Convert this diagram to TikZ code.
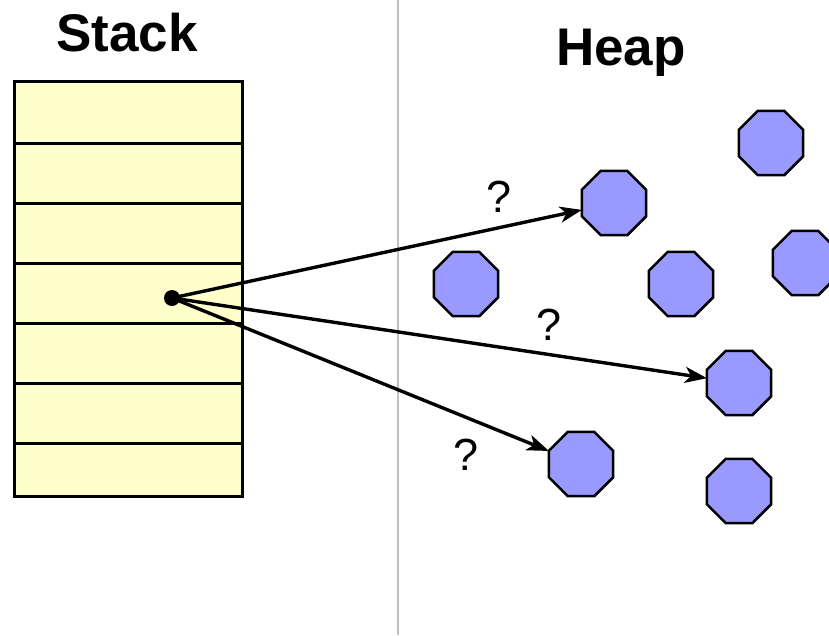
\documentclass[tikz,border=0pt]{standalone}
\usepackage{fontspec}
\setmainfont{Liberation Sans}
\usetikzlibrary{shapes.geometric,arrows.meta}
\definecolor{slotfill}{HTML}{FFFFCC}
\definecolor{objfill}{HTML}{9999FF}
\definecolor{divider}{HTML}{C0C0C0}
\begin{document}
\begin{tikzpicture}[x=1pt,y=-1pt,
  title/.style={font=\fontsize{53}{53}\selectfont\bfseries, inner sep=0pt},
  qmark/.style={font=\fontsize{45}{45}\selectfont, inner sep=0pt},
  slot/.style={draw=black, line width=3pt, fill=slotfill, rectangle,
    anchor=north west, minimum width=228pt, inner sep=0pt, outer sep=0pt},
  obj/.style={draw=black, line width=2.6pt, fill=objfill, regular polygon,
    regular polygon sides=8, minimum size=69.5pt, inner sep=0pt, outer sep=0pt},
  ptr/.style={line width=3.4pt, -{Stealth[length=22pt,width=16pt,inset=6pt]}},
  ref/.style={circle, fill=black, minimum size=16pt, inner sep=0pt}]
\useasboundingbox (0,0) rectangle (829,635);

% divider between the two memory areas
\coordinate (divtop) at (398,0);
\coordinate (divbot) at (398,635);
\draw[divider, line width=2.2pt] (divtop) -- (divbot);

% headings
\node[title, anchor=base] (stacktitle) at (127,51) {Stack};
\node[title, anchor=base] (heaptitle) at (621,65) {Heap};

% stack frames
\node[slot, minimum height=62pt] (s1) at (14,81) {};
\node[slot, minimum height=60pt] (s2) at (14,143) {};
\node[slot, minimum height=60pt] (s3) at (14,203) {};
\node[slot, minimum height=60pt] (s4) at (14,263) {};
\node[slot, minimum height=60pt] (s5) at (14,323) {};
\node[slot, minimum height=60pt] (s6) at (14,383) {};
\node[slot, minimum height=53pt] (s7) at (14,443) {};

% heap objects
\node[obj] (h1) at (771,143) {};
\node[obj] (h2) at (614,203) {};
\node[obj] (h3) at (466,284) {};
\node[obj] (h4) at (681,284) {};
\node[obj] (h5) at (805,263) {};
\node[obj] (h6) at (739,383) {};
\node[obj] (h7) at (581,464) {};
\node[obj] (h8) at (739,491) {};

% the reference held in a stack slot
\node[ref] (p) at (172,298) {};

\draw[ptr] (p.center) -- (h2);
\draw[ptr] (p.center) -- (h6);
\draw[ptr] (p.center) -- (h7);

% uncertainty labels
\node[qmark] (q1) at (499,197) {?};
\node[qmark] (q2) at (549,325) {?};
\node[qmark] (q3) at (466,455) {?};
\end{tikzpicture}
\end{document}
